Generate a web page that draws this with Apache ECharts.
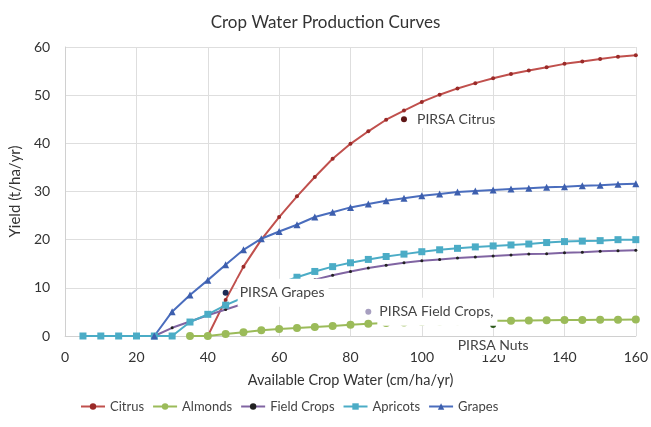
<!DOCTYPE html>
<html>
<head>
<meta charset="utf-8">
<script src="https://cdn.jsdelivr.net/npm/echarts@6/dist/echarts.min.js"></script>
<style>
  html, body { margin: 0; padding: 0; background: #fff; }
  #main { width: 651px; height: 427px; }
</style>
</head>
<body>
<div id="main"></div>
<script>
// available crop water (cm/ha/yr)
const water = [5, 10, 15, 20, 25, 30, 35, 40, 45, 50, 55, 60, 65, 70, 75, 80,
  85, 90, 95, 100, 105, 110, 115, 120, 125, 130, 135, 140, 145, 150, 155, 160];

// yields (t/ha/yr), null where a curve has no point
const citrus = [null, null, null, null, null, null, null,
  0, 7.5, 14.4, 20, 24.7, 29, 33, 36.8, 39.9, 42.5, 44.9, 46.8, 48.6, 50.1,
  51.4, 52.5, 53.5, 54.4, 55.1, 55.8, 56.5, 57, 57.5, 58, 58.3];
const almonds = [null, null, null, null, null, null,
  0, 0, 0.4, 0.8, 1.2, 1.45, 1.65, 1.85, 2.1, 2.35, 2.55, 2.7, 2.8, 2.9, 3.0,
  3.05, 3.1, 3.15, 3.15, 3.2, 3.25, 3.3, 3.3, 3.35, 3.35, 3.4];
const fieldCrops = [null, null, null, null,
  0, 1.7, 3.0, 4.3, 5.5, 6.7, 8, 9.3, 10.5, 11.7, 12.6, 13.4, 14.1, 14.7,
  15.2, 15.6, 15.9, 16.2, 16.4, 16.6, 16.8, 17, 17.1, 17.3, 17.4, 17.6, 17.7, 17.8];
const apricots = [0, 0, 0, 0, 0, 0,
  2.9, 4.5, 6.4, 8, 9.5, 10.9, 12.2, 13.4, 14.4, 15.2, 15.9, 16.5, 17, 17.5,
  17.9, 18.2, 18.5, 18.7, 18.9, 19.1, 19.4, 19.6, 19.7, 19.8, 20, 20];
const grapes = [null, null, null, null,
  0, 5.05, 8.5, 11.6, 14.8, 17.9, 20.2, 21.7, 23.1, 24.7, 25.7, 26.7, 27.4,
  28.1, 28.6, 29.1, 29.5, 29.9, 30.1, 30.3, 30.5, 30.7, 30.9, 31, 31.2, 31.3, 31.5, 31.6];

// PIRSA reference points
const pirsaNames = ['PIRSA Citrus', 'PIRSA Grapes', 'PIRSA Field Crops,', 'PIRSA Nuts'];
const pirsaWater = [95, 45, 85, 120];
const pirsaYield = [45, 9, 5.05, 2.3];

const font = 'Lato, "Open Sans", sans-serif';

function pairs(vals) {
  const out = [];
  vals.forEach(function (v, i) {
    if (v !== null) out.push([water[i], v]);
  });
  return out;
}

function curve(name, vals, color, symbol, size, markColor) {
  return {
    name: name,
    type: 'line',
    data: pairs(vals),
    symbol: symbol,
    symbolSize: size,
    color: color,
    lineStyle: { color: color, width: 2 },
    itemStyle: { color: markColor || color, borderWidth: 0 },
    z: 2
  };
}

const pirsaColors = ['#5e1616', '#1c2b55', '#a79fc0', '#2d5a1c'];
const pirsaLabels = [
  { position: 'right', distance: 8, padding: [2, 2, 2, 2] },
  { position: 'right', distance: 9, padding: [5, 4, 9, 2] },
  { position: 'right', distance: 6, padding: [2, 4, 12, 2] },
  { position: 'bottom', distance: 9, padding: [2, 4, 2, 4] }
];

const pirsaData = pirsaNames.map(function (n, i) {
  return {
    name: n,
    value: [pirsaWater[i], pirsaYield[i]],
    itemStyle: { color: pirsaColors[i], opacity: 1 },
    label: Object.assign({
      show: true,
      formatter: n,
      color: '#444',
      fontSize: 14,
      fontFamily: font,
      backgroundColor: '#fff',
      opacity: 1
    }, pirsaLabels[i])
  };
});

const option = {
  animation: false,
  title: {
    text: 'Crop Water Production Curves',
    left: 'center',
    top: 9,
    textStyle: { fontSize: 17, fontWeight: 'normal', color: '#333', fontFamily: font }
  },
  legend: {
    bottom: 9,
    left: 75,
    itemWidth: 24,
    itemHeight: 8,
    itemGap: 8,
    textStyle: { fontSize: 13, color: '#444', fontFamily: font },
    data: ['Citrus', 'Almonds', 'Field Crops', 'Apricots', 'Grapes']
  },
  grid: { left: 62, right: 11, top: 47, bottom: 91, containLabel: false },
  xAxis: {
    type: 'value',
    min: 0,
    max: 160,
    interval: 20,
    name: 'Available Crop Water (cm/ha/yr)',
    nameLocation: 'middle',
    nameGap: 37,
    nameTextStyle: { fontSize: 14.5, color: '#333', fontFamily: font },
    axisLine: { lineStyle: { color: '#d0d0d0' } },
    axisTick: { show: false },
    axisLabel: { fontSize: 14, color: '#333', fontFamily: font, margin: 14 },
    splitLine: { lineStyle: { color: '#dedede' } }
  },
  yAxis: {
    type: 'value',
    min: 0,
    max: 60,
    interval: 10,
    name: 'Yield (t/ha/yr)',
    nameLocation: 'middle',
    nameGap: 36,
    nameTextStyle: { fontSize: 15, color: '#333', fontFamily: font },
    axisLine: { show: true, lineStyle: { color: '#d0d0d0' } },
    axisTick: { show: false },
    axisLabel: { fontSize: 14, color: '#333', fontFamily: font, margin: 15 },
    splitLine: { lineStyle: { color: '#dedede' } }
  },
  series: [
    curve('Citrus', citrus, '#c0504d', 'circle', 4, '#9a2a28'),
    curve('Almonds', almonds, '#9bbb59', 'circle', 8),
    curve('Field Crops', fieldCrops, '#8064a2', 'circle', 3, '#222'),
    curve('Apricots', apricots, '#4bacc6', 'rect', 7),
    curve('Grapes', grapes, '#4a6dbd', 'triangle', 7, '#3d5fae'),
    {
      name: 'PIRSA',
      type: 'scatter',
      symbol: 'circle',
      symbolSize: 6,
      itemStyle: { opacity: 1 },
      data: pirsaData,
      z: 10
    }
  ]
};

const myChart = echarts.init(document.getElementById('main'));
myChart.setOption(option);
</script>
</body>
</html>
